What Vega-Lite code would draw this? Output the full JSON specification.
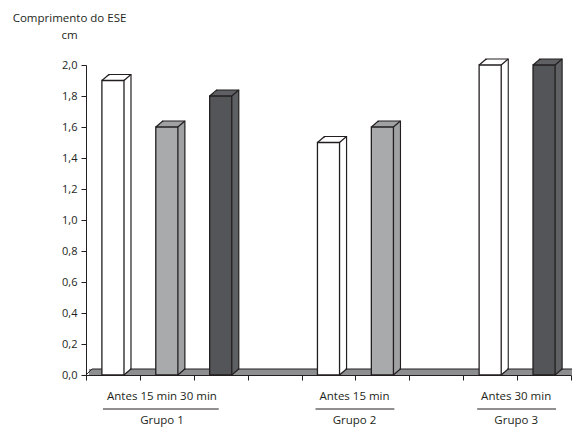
{
  "$schema": "https://vega.github.io/schema/vega-lite/v6.json",
  "width": 485,
  "height": 310,
  "autosize": "none",
  "padding": {"left": 86, "right": 1, "top": 65, "bottom": 56},
  "background": "white",
  "config": {
    "view": {"stroke": null},
    "font": "Open Sans",
    "text": {"font": "Open Sans", "fontSize": 11.5, "color": "#231f20"}
  },
  "datasets": {
    "bars": [
      {"grupo": "Grupo 1", "tempo": "Antes", "slot": "G1-Antes", "valor": 1.9},
      {"grupo": "Grupo 1", "tempo": "15 min", "slot": "G1-15", "valor": 1.6},
      {"grupo": "Grupo 1", "tempo": "30 min", "slot": "G1-30", "valor": 1.8},
      {"grupo": "Grupo 2", "tempo": "Antes", "slot": "G2-Antes", "valor": 1.5},
      {"grupo": "Grupo 2", "tempo": "15 min", "slot": "G2-15", "valor": 1.6},
      {"grupo": "Grupo 3", "tempo": "Antes", "slot": "G3-Antes", "valor": 2.0},
      {"grupo": "Grupo 3", "tempo": "30 min", "slot": "G3-30", "valor": 2.0}
    ],
    "piso": [{"slot": "G1-Antes", "ate": "G3-30", "valor": 0}],
    "grupos1": [
      {"grupo": "Grupo 1", "sub": "Antes 15 min 30 min", "slot": "G1-Antes", "ate": "G1-30", "valor": 0}
    ],
    "grupos23": [
      {"grupo": "Grupo 2", "sub": "Antes 15 min", "slot": "G2-Antes", "ate": "G2-15", "valor": 0},
      {"grupo": "Grupo 3", "sub": "Antes 30 min", "slot": "G3-Antes", "ate": "G3-30", "valor": 0}
    ]
  },
  "encoding": {
    "x": {
      "field": "slot",
      "type": "nominal",
      "scale": {
        "domain": ["G1-Antes", "G1-15", "G1-30", "gap1", "G2-Antes", "G2-15", "gap2", "G3-Antes", "G3-30"],
        "paddingInner": 0,
        "paddingOuter": 0
      },
      "axis": {
        "labels": false,
        "title": null,
        "tickBand": "extent",
        "tickSize": 5,
        "tickColor": "#231f20",
        "domainColor": "#231f20",
        "domainWidth": 1,
        "grid": false
      }
    },
    "y": {
      "field": "valor",
      "type": "quantitative",
      "scale": {"domain": [0, 2], "nice": false},
      "axis": {
        "values": [0, 0.2, 0.4, 0.6, 0.8, 1.0, 1.2, 1.4, 1.6, 1.8, 2.0],
        "labelExpr": "replace(format(datum.value, '.1f'), '.', ',')",
        "labelOverlap": false,
        "labelFont": "Open Sans",
        "labelFontSize": 11,
        "labelColor": "#231f20",
        "labelPadding": 4,
        "tickSize": 5,
        "tickColor": "#231f20",
        "domainColor": "#231f20",
        "grid": false,
        "title": ["Comprimento do ESE", "cm"],
        "titleFont": "Open Sans",
        "titleFontSize": 11.5,
        "titleFontWeight": "normal",
        "titleColor": "#231f20",
        "titleAngle": 0,
        "titleAlign": "center",
        "titleBaseline": "top",
        "titleLineHeight": 17,
        "titleX": -17,
        "titleY": -53
      }
    }
  },
  "layer": [
    {
      "data": {"name": "piso"},
      "mark": {"type": "rule", "strokeWidth": 6, "color": "#8d8e90", "yOffset": -3, "xOffset": -24, "x2Offset": 30},
      "encoding": {"x2": {"field": "ate"}}
    },
    {
      "data": {"name": "piso"},
      "mark": {"type": "rule", "strokeWidth": 1, "color": "#231f20", "yOffset": -6, "xOffset": -21, "x2Offset": 30},
      "encoding": {"x2": {"field": "ate"}}
    },
    {
      "data": {"name": "piso"},
      "mark": {"type": "rule", "strokeWidth": 1, "color": "#231f20", "xOffset": -27, "x2Offset": -21, "y2Offset": -6},
      "encoding": {"x2": {"field": "slot"}, "y2": {"field": "valor"}}
    },
    {
      "data": {"name": "bars"},
      "mark": {"type": "bar", "width": {"band": 0.41}, "stroke": "#231f20", "strokeWidth": 1.2, "xOffset": 7, "yOffset": -6, "y2Offset": -6},
      "encoding": {
        "color": {"field": "tempo", "type": "nominal", "legend": null, "scale": {"domain": ["Antes", "15 min", "30 min"], "range": ["#ffffff", "#a0a1a3", "#5f6064"]}}
      }
    },
    {
      "data": {"name": "bars"},
      "mark": {"type": "bar", "width": {"band": 0.41}, "xOffset": 6, "yOffset": -5, "y2Offset": -5},
      "encoding": {"color": {"field": "tempo", "type": "nominal", "legend": null}}
    },
    {
      "data": {"name": "bars"},
      "mark": {"type": "bar", "width": {"band": 0.41}, "xOffset": 5, "yOffset": -4, "y2Offset": -4},
      "encoding": {"color": {"field": "tempo", "type": "nominal", "legend": null}}
    },
    {
      "data": {"name": "bars"},
      "mark": {"type": "bar", "width": {"band": 0.41}, "xOffset": 4, "yOffset": -3, "y2Offset": -3},
      "encoding": {"color": {"field": "tempo", "type": "nominal", "legend": null}}
    },
    {
      "data": {"name": "bars"},
      "mark": {"type": "bar", "width": {"band": 0.41}, "xOffset": 3, "yOffset": -3, "y2Offset": -3},
      "encoding": {"color": {"field": "tempo", "type": "nominal", "legend": null}}
    },
    {
      "data": {"name": "bars"},
      "mark": {"type": "bar", "width": {"band": 0.41}, "xOffset": 2, "yOffset": -2, "y2Offset": -2},
      "encoding": {"color": {"field": "tempo", "type": "nominal", "legend": null}}
    },
    {
      "data": {"name": "bars"},
      "mark": {"type": "bar", "width": {"band": 0.41}, "xOffset": 1, "yOffset": -1, "y2Offset": -1},
      "encoding": {"color": {"field": "tempo", "type": "nominal", "legend": null}}
    },
    {
      "data": {"name": "bars"},
      "mark": {"type": "bar", "width": {"band": 0.41}, "stroke": "#231f20", "strokeWidth": 1.3},
      "encoding": {
        "fill": {"field": "tempo", "type": "nominal", "legend": null, "scale": {"domain": ["Antes", "15 min", "30 min"], "range": ["#ffffff", "#a9aaac", "#545559"]}}
      }
    },
    {
      "data": {"name": "bars"},
      "mark": {"type": "rule", "color": "#231f20", "strokeWidth": 1.2, "xOffset": -11, "x2Offset": -4, "y2Offset": -6},
      "encoding": {"x2": {"field": "slot"}, "y2": {"field": "valor"}}
    },
    {
      "data": {"name": "bars"},
      "mark": {"type": "rule", "color": "#231f20", "strokeWidth": 1.2, "xOffset": 11, "x2Offset": 18, "y2Offset": -6},
      "encoding": {"x2": {"field": "slot"}, "y2": {"field": "valor"}}
    },
    {
      "data": {"name": "bars"},
      "mark": {"type": "rule", "color": "#231f20", "strokeWidth": 1.2, "xOffset": 11, "x2Offset": 18, "y2Offset": -6},
      "encoding": {"x2": {"field": "slot"}, "y": {"datum": 0}, "y2": {"datum": 0}}
    },
    {
      "data": {"name": "grupos1"},
      "mark": {"type": "text", "baseline": "middle", "align": "center", "dy": 22, "xOffset": 49},
      "encoding": {"text": {"field": "sub"}}
    },
    {
      "data": {"name": "grupos1"},
      "mark": {"type": "text", "baseline": "middle", "align": "center", "dy": 46, "xOffset": 49},
      "encoding": {"text": {"field": "grupo"}}
    },
    {
      "data": {"name": "grupos23"},
      "mark": {"type": "text", "baseline": "middle", "align": "center", "dy": 22, "xOffset": 26},
      "encoding": {"text": {"field": "sub"}}
    },
    {
      "data": {"name": "grupos23"},
      "mark": {"type": "text", "baseline": "middle", "align": "center", "dy": 46, "xOffset": 26},
      "encoding": {"text": {"field": "grupo"}}
    },
    {
      "data": {"name": "grupos1"},
      "mark": {"type": "rule", "color": "#231f20", "strokeWidth": 1, "xOffset": -10, "x2Offset": -2, "yOffset": 34},
      "encoding": {"x2": {"field": "ate"}}
    },
    {
      "data": {"name": "grupos23"},
      "mark": {"type": "rule", "color": "#231f20", "strokeWidth": 1, "xOffset": -13, "x2Offset": 12, "yOffset": 34},
      "encoding": {"x2": {"field": "ate"}}
    }
  ]
}
